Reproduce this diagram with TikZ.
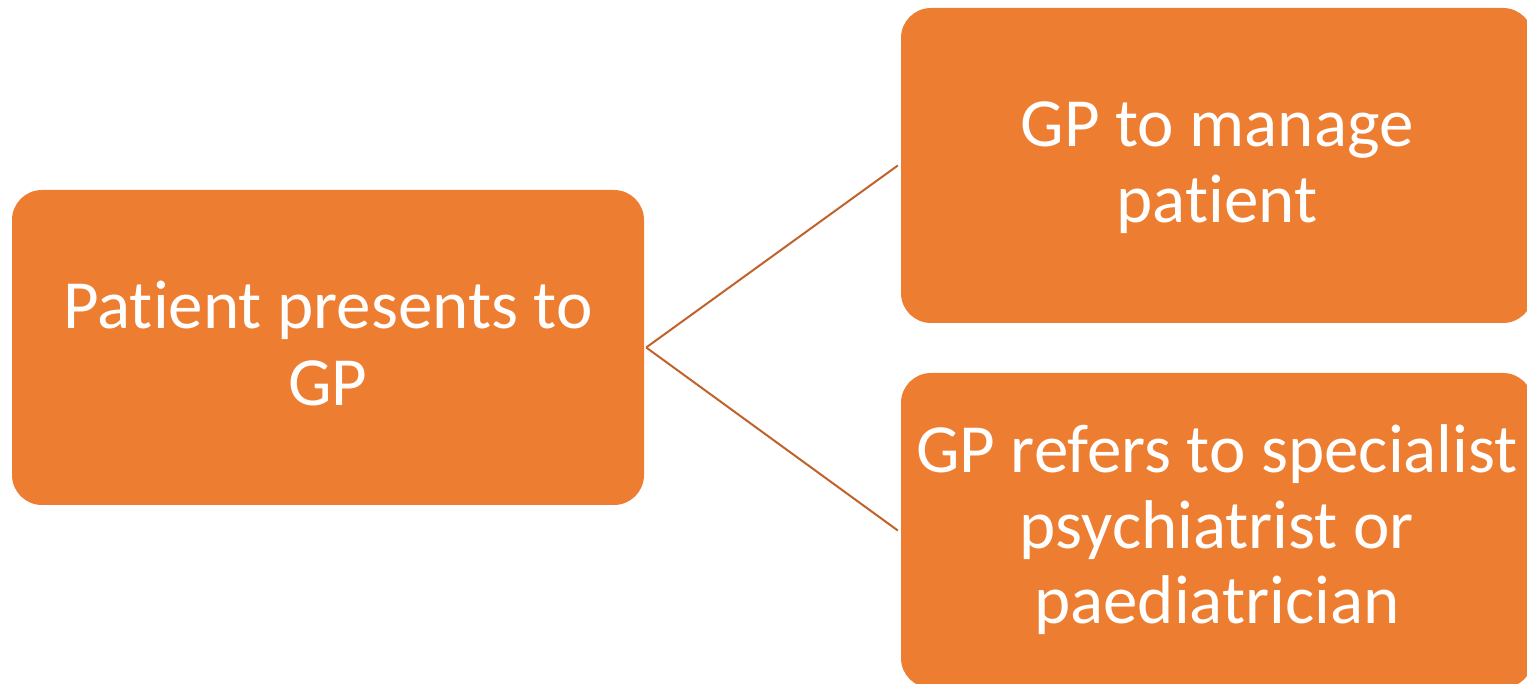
\documentclass[tikz,border=0pt]{standalone}
\usepackage{fontspec}
\setmainfont{Carlito}[Ligatures={NoCommon}]
\definecolor{boxfill}{HTML}{ED7D31}
\definecolor{linkcol}{HTML}{C0622A}
\begin{document}
\begin{tikzpicture}[x=1pt,y=-1pt,
  box/.style={fill=boxfill, draw=none, rounded corners=30pt, minimum width=632pt, minimum height=315pt, inner sep=0pt},
  lbl/.style={text=white, anchor=base, inner sep=0pt, font=\fontsize{69}{76}\selectfont},
  link/.style={draw=linkcol, line width=2pt}]
\useasboundingbox (0,0) rectangle (1527,684);
\begin{scope}
\clip (0,0) rectangle (1527,684);
\node[box] (left) at (328,347.5) {};
\node[box] (top) at (1217,165.5) {};
\node[box] (bot) at (1217,530.5) {};
\end{scope}
\node[lbl] (l1) at (328,329) {Patient presents to};
\node[lbl] (l2) at (328,406) {GP};
\node[lbl] (t1) at (1217,147) {GP to manage};
\node[lbl] (t2) at (1217,223) {patient};
\node[lbl] (b1) at (1217,473) {GP refers to specialist};
\node[lbl] (b2) at (1217,548) {psychiatrist or};
\node[lbl] (b3) at (1217,623) {paediatrician};
\coordinate (hub) at ([xshift=2pt]left.east);
\draw[link] (hub) -- ([xshift=-3pt]top.west);
\draw[link] (hub) -- ([xshift=-3pt]bot.west);
\end{tikzpicture}
\end{document}
